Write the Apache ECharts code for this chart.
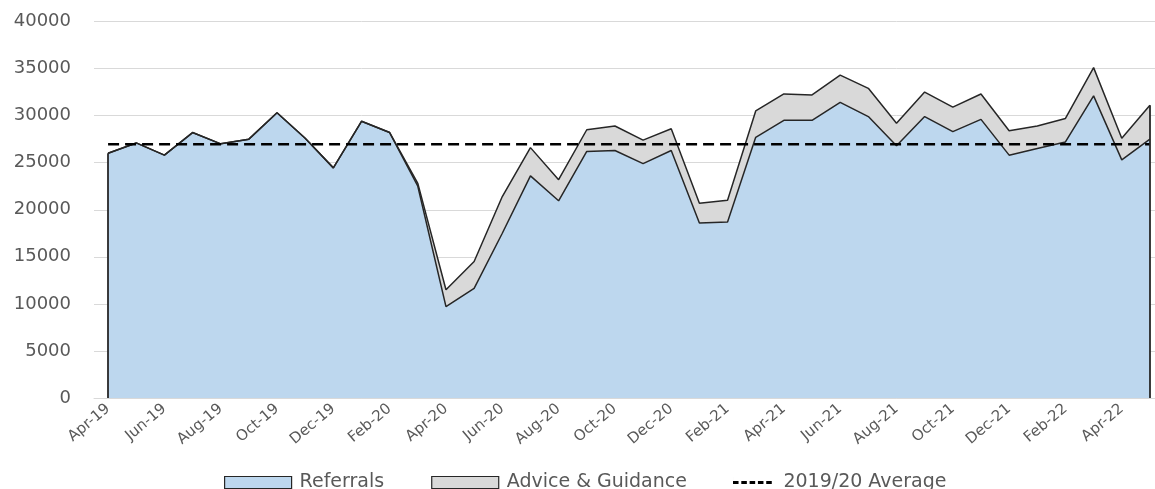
<!DOCTYPE html>
<html>
<head>
<meta charset="utf-8">
<script src="https://cdn.jsdelivr.net/npm/echarts@6/dist/echarts.min.js"></script>
<style>
  html, body { margin: 0; padding: 0; background: #fff; overflow: hidden; }
  #chart { width: 1164px; height: 489px; }
</style>
</head>
<body>
<div id="chart"></div>
<script>
var months = ['Apr-19', 'May-19', 'Jun-19', 'Jul-19', 'Aug-19', 'Sep-19', 'Oct-19', 'Nov-19', 'Dec-19', 'Jan-20', 'Feb-20', 'Mar-20',
    'Apr-20', 'May-20', 'Jun-20', 'Jul-20', 'Aug-20', 'Sep-20', 'Oct-20', 'Nov-20', 'Dec-20', 'Jan-21', 'Feb-21', 'Mar-21',
    'Apr-21', 'May-21', 'Jun-21', 'Jul-21', 'Aug-21', 'Sep-21', 'Oct-21', 'Nov-21', 'Dec-21', 'Jan-22', 'Feb-22', 'Mar-22',
    'Apr-22', 'May-22'];

var referrals = [26000, 27100, 25800, 28200, 27000, 27500, 30300, 27600, 24450, 29400, 28200, 22500,
    9700, 11650, 17500, 23600, 20950, 26200, 26300, 24900, 26300, 18600, 18700, 27700,
    29500, 29500, 31400, 29900, 26800, 29900, 28300, 29600, 25800, 26500, 27200, 32100,
    25300, 27500];

var adviceGuidance = [0, 0, 0, 0, 0, 0, 0, 0, 0, 0, 0, 300,
    1800, 2850, 3900, 3000, 2250, 2300, 2600, 2500, 2300, 2100, 2300, 2800,
    2800, 2700, 2900, 3000, 2400, 2600, 2600, 2700, 2600, 2400, 2500, 3000,
    2300, 3600];

var average1920 = 26950;

var yTicks = [0, 5000, 10000, 15000, 20000, 25000, 30000, 35000, 40000];

var avgLine = months.map(function () { return average1920; });
var last = months.length - 1;

var textColor = '#595959';
var font = 'DejaVu Sans';

var chart = echarts.init(document.getElementById('chart'));

var option = {
    backgroundColor: '#ffffff',
    animation: false,
    grid: {
        left: 94,
        right: 0,
        top: 21.5,
        bottom: 91,
        containLabel: false
    },
    legend: [{
        left: 224,
        top: 473,
        padding: 0,
        itemWidth: 67,
        itemHeight: 12,
        itemGap: 47,
        textStyle: { color: textColor, fontFamily: font, fontSize: 19, lineHeight: 17, padding: [0, 0, 0, 3] },
        data: [
            { name: 'Referrals', icon: 'rect', itemStyle: { color: '#bdd7ee', borderColor: '#262626', borderWidth: 1.2 } },
            { name: 'Advice & Guidance', icon: 'rect', itemStyle: { color: '#d9d9d9', borderColor: '#262626', borderWidth: 1.2 } }
        ]
    }, {
        left: 733,
        top: 473,
        padding: 0,
        itemWidth: 42,
        itemHeight: 12,
        textStyle: { color: textColor, fontFamily: font, fontSize: 19, lineHeight: 17, padding: [0, 0, 0, 5] },
        data: [{
            name: '2019/20 Average',
            icon: 'path://M0,5h6v3h-6zM9,5h6v3h-6zM18,5h6v3h-6zM27,5h6v3h-6zM36,5h6v3h-6zM0,0h0.01v13h-0.01z',
            itemStyle: { color: '#000000' }
        }]
    }],
    xAxis: {
        type: 'category',
        data: months,
        boundaryGap: true,
        axisLine: { lineStyle: { color: '#d9d9d9', width: 1 } },
        axisTick: { interval: 1, length: 5, lineStyle: { color: '#d9d9d9' } },
        axisLabel: {
            interval: 1,
            rotate: 40,
            color: textColor,
            fontFamily: font,
            fontSize: 15,
            margin: 9
        },
        splitLine: { show: false }
    },
    yAxis: {
        type: 'value',
        min: yTicks[0],
        max: yTicks[yTicks.length - 1],
        interval: 5000,
        axisLine: { show: false },
        axisTick: { show: false },
        axisLabel: {
            color: textColor,
            fontFamily: font,
            fontSize: 18,
            margin: 23,
            formatter: function (v) { return String(v); }
        },
        splitLine: { lineStyle: { color: '#d9d9d9', width: 1 } }
    },
    series: [{
        name: 'Referrals',
        type: 'line',
        stack: 'total',
        data: referrals,
        symbol: 'none',
        lineStyle: { color: '#262626', width: 1.5 },
        itemStyle: { color: '#bdd7ee' },
        areaStyle: { color: '#bdd7ee', opacity: 1 },
        z: 2,
        markLine: {
            silent: true,
            symbol: 'none',
            label: { show: false },
            lineStyle: { color: '#262626', width: 1.8, type: 'solid' },
            data: [
                [{ coord: [months[0], 0] }, { coord: [months[0], referrals[0]] }],
                [{ coord: [months[last], 0] }, { coord: [months[last], referrals[last] + adviceGuidance[last]] }]
            ]
        }
    }, {
        name: 'Advice & Guidance',
        type: 'line',
        stack: 'total',
        data: adviceGuidance,
        symbol: 'none',
        lineStyle: { color: '#262626', width: 1.5 },
        itemStyle: { color: '#d9d9d9' },
        areaStyle: { color: '#d9d9d9', opacity: 1 },
        z: 2
    }, {
        name: '2019/20 Average',
        type: 'line',
        data: avgLine,
        symbol: 'none',
        lineStyle: { color: '#000000', width: 2.5, type: [11, 6] },
        itemStyle: { color: '#000000' },
        z: 3
    }]
};

chart.setOption(option);
</script>
</body>
</html>
